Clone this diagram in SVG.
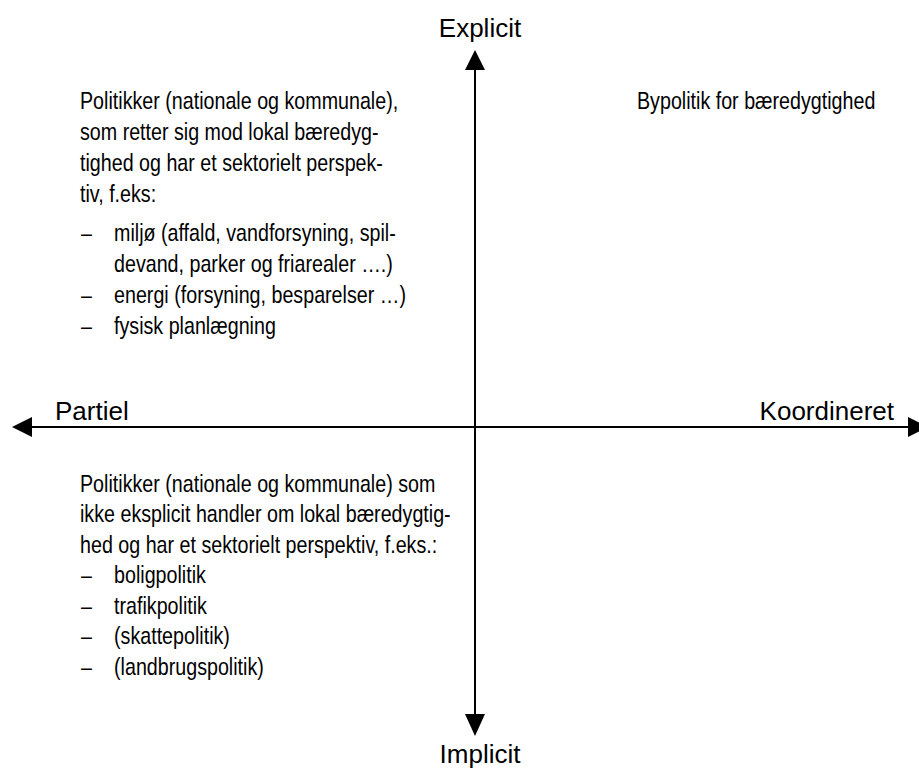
<svg xmlns="http://www.w3.org/2000/svg" width="919" height="771" viewBox="0 0 919 771">
<style>
text{fill:#000}
.ax{font-family:"Liberation Sans",Arial,sans-serif;font-size:26px}
.b{font-family:"Liberation Sans",Arial,sans-serif;font-size:24px}
.axis{stroke:#000;stroke-width:2;fill:none}
.head{fill:#000}
</style>
<rect width="919" height="771" fill="#fff"/>
<g id="connectors">
<line class="axis" x1="475" y1="66" x2="475" y2="718"/>
<polygon class="head" points="475,50 465,70 485,70"/>
<polygon class="head" points="475,736 465,714 485,714"/>
<line class="axis" x1="28" y1="427" x2="912" y2="427"/>
<polygon class="head" points="12,427 32,417 32,437"/>
<polygon class="head" points="928,427 908,417 908,437"/>
</g>
<g id="explicit"><text class="ax" x="480" y="37" text-anchor="middle">Explicit</text></g>
<g id="implicit"><text class="ax" x="480" y="763" text-anchor="middle">Implicit</text></g>
<g id="partiel"><text class="ax" x="55" y="420">Partiel</text></g>
<g id="koordineret"><text class="ax" x="894" y="420" text-anchor="end">Koordineret</text></g>
<g id="bypolitik" transform="translate(637 0) scale(0.82 1)"><text class="b" x="0" y="109">Bypolitik for bæredygtighed</text></g>
<g id="top-left" transform="translate(80 0) scale(0.82 1)">
<text class="b" x="0" y="109">Politikker (nationale og kommunale),</text>
<text class="b" x="0" y="140">som retter sig mod lokal bæredyg-</text>
<text class="b" x="0" y="171">tighed og har et sektorielt perspek-</text>
<text class="b" x="0" y="202">tiv, f.eks:</text>
<text class="b" x="1.2" y="241">–</text><text class="b" x="41.5" y="241">miljø (affald, vandforsyning, spil-</text>
<text class="b" x="41.5" y="272">devand, parker og friarealer ….)</text>
<text class="b" x="1.2" y="303">–</text><text class="b" x="41.5" y="303">energi (forsyning, besparelser …)</text>
<text class="b" x="1.2" y="334">–</text><text class="b" x="41.5" y="334">fysisk planlægning</text>
</g>
<g id="bottom-left" transform="translate(80 0) scale(0.82 1)">
<text class="b" x="0" y="492">Politikker (nationale og kommunale) som</text>
<text class="b" x="0" y="522.5">ikke eksplicit handler om lokal bæredygtig-</text>
<text class="b" x="0" y="553">hed og har et sektorielt perspektiv, f.eks.:</text>
<text class="b" x="1.2" y="583.5">–</text><text class="b" x="41.5" y="583.5">boligpolitik</text>
<text class="b" x="1.2" y="614">–</text><text class="b" x="41.5" y="614">trafikpolitik</text>
<text class="b" x="1.2" y="644.5">–</text><text class="b" x="41.5" y="644.5">(skattepolitik)</text>
<text class="b" x="1.2" y="675">–</text><text class="b" x="41.5" y="675">(landbrugspolitik)</text>
</g>
</svg>
